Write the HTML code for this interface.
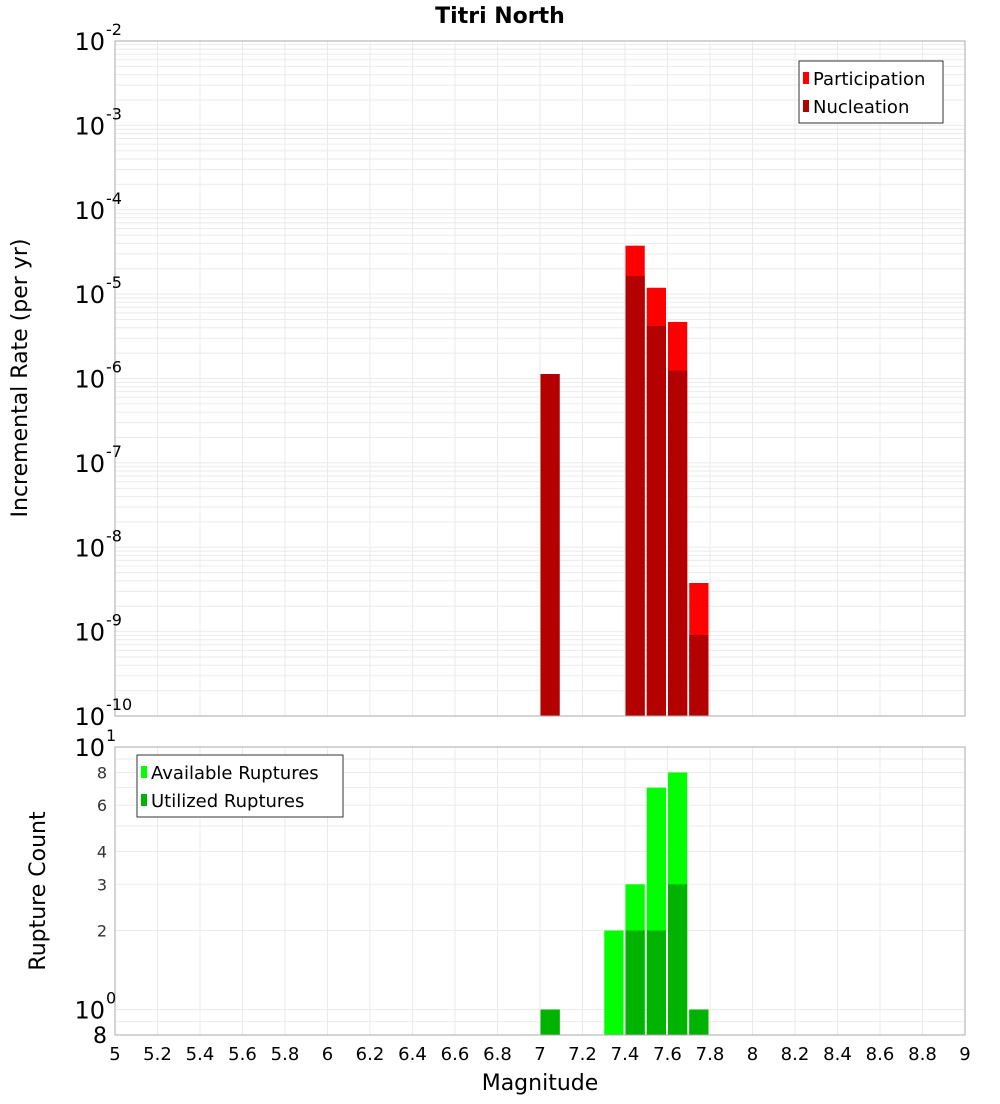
<!DOCTYPE html>
<html><head><meta charset="utf-8"><style>
body{margin:0;background:#fff;font-family:"DejaVu Sans","Liberation Sans",sans-serif;}
</style></head><body>
<svg id="chart" width="1000" height="1100" xmlns="http://www.w3.org/2000/svg">
<text x="500" y="23" text-anchor="middle" font-size="22" font-weight="bold">Titri North</text>
<g id="topPlot"></g>
<g id="botPlot"></g>
<text transform="translate(27,378) rotate(-90)" text-anchor="middle" font-size="22">Incremental Rate (per yr)</text>
<text transform="translate(45,891) rotate(-90)" text-anchor="middle" font-size="22">Rupture Count</text>
<text x="540" y="1090" text-anchor="middle" font-size="22">Magnitude</text>
</svg>
<script>
const magBins=[7.05,7.45,7.55,7.65,7.75];
const participation=[null,3.75e-5,1.19e-5,4.68e-6,3.77e-9];
const nucleation=[1.13e-6,1.64e-5,4.19e-6,1.24e-6,9.1e-10];
const countBins=[7.05,7.35,7.45,7.55,7.65,7.75];
const available=[1,2,3,7,8,1];
const utilized=[1,0,2,2,3,1];
const xTicks=[5,5.2,5.4,5.6,5.8,6,6.2,6.4,6.6,6.8,7,7.2,7.4,7.6,7.8,8,8.2,8.4,8.6,8.8,9];
const rateExps=[-2,-3,-4,-5,-6,-7,-8,-9,-10];
const countTicks=[8,6,4,3,2];

const NS="http://www.w3.org/2000/svg";
const X0=115,X1=965;
const xs=m=>X0+(m-5)/4*(X1-X0);
const T0=41,T1=716;
const yTop=v=>T0+(-2-Math.log10(v))*(T1-T0)/8;
const B0=747,B1=1035;
const bs=(B1-B0)/(1-Math.log10(0.8));
const yBot=v=>B0+(1-Math.log10(v))*bs;
function mk(p,tag,a){const e=document.createElementNS(NS,tag);for(const k in a)e.setAttribute(k,a[k]);p.appendChild(e);return e;}
const topG=document.getElementById('topPlot'),botG=document.getElementById('botPlot');

for(const g of [[topG,T0,T1],[botG,B0,B1]]){
  for(let m=5;m<=9.001;m+=0.2){const l=mk(g[0],'line',{x1:xs(m),x2:xs(m),y1:g[1],y2:g[2],stroke:'#ebebeb'});
  
  }
}
for(let d=-10;d<-2;d++)for(let k=1;k<10;k++){const y=yTop(k*Math.pow(10,d));
  const l=mk(topG,'line',{x1:X0,x2:X1,y1:y,y2:y,stroke:'#ebebeb'});
  
  }
for(const v of [0.8,0.9,1,2,3,4,5,6,7,8,9]){const y=yBot(v);
  const l=mk(botG,'line',{x1:X0,x2:X1,y1:y,y2:y,stroke:'#ebebeb'});
  
  }

const bw=(X1-X0)/40;
function bar(p,c,v,yf,base,col,name){
  const x=xs(c)-bw/2+0.5,y=yf(v);
  const r=mk(p,'rect',{x:x,y:y,width:bw-2,height:base-y,fill:col});
  
  
}
magBins.forEach((c,i)=>{if(participation[i])bar(topG,c,participation[i],yTop,T1,'#ff0000','participation-bar');});
magBins.forEach((c,i)=>{if(nucleation[i])bar(topG,c,nucleation[i],yTop,T1,'#b30000','nucleation-bar');});
countBins.forEach((c,i)=>{if(available[i])bar(botG,c,available[i],yBot,B1,'#00ff00','available-bar');});
countBins.forEach((c,i)=>{if(utilized[i])bar(botG,c,utilized[i],yBot,B1,'#00b300','utilized-bar');});

for(const g of [[topG,T0,T1],[botG,B0,B1]]){const f=mk(g[0],'rect',{x:X0,y:g[1],width:X1-X0,height:g[2]-g[1],fill:'none',stroke:'#aaa'});

}

rateExps.forEach(e=>{const y=yTop(Math.pow(10,e));
  const t=mk(topG,'text',{x:105,y:y+9,'text-anchor':'end','font-size':24});
  
  
  t.textContent='10';
  const s=mk(topG,'text',{x:106,y:y-6,'font-size':16});
  
  
  s.textContent=String(e);});
for(const [v,ex] of [[10,'1'],[1,'0']]){const y=yBot(v);
  const t=mk(botG,'text',{x:105,y:y+9,'text-anchor':'end','font-size':24});
  
  
  t.textContent='10';
  const s=mk(botG,'text',{x:106,y:y-6,'font-size':16});
  
  
  s.textContent=ex;}
countTicks.forEach(v=>{const t=mk(botG,'text',{x:107,y:yBot(v)+6,'text-anchor':'end','font-size':16,fill:'#333'});
  
  
  t.textContent=v;});
{const t=mk(botG,'text',{x:107,y:B1+8,'text-anchor':'end','font-size':22});


t.textContent='8';}
xTicks.forEach(m=>{const t=mk(botG,'text',{x:xs(m),y:1060,'text-anchor':'middle','font-size':18});
  
  
  t.textContent=String(Math.round(m*10)/10);});

function legend(p,x,y,w,items,name){
  const g=mk(p,'g',{});
  
  
  mk(g,'rect',{x:x,y:y,width:w,height:items.length*28+6,fill:'#fff',stroke:'#333'});
  items.forEach((it,i)=>{
    const sw=mk(g,'rect',{x:x+4,y:y+11+i*28,width:6,height:12,fill:it[1]});
    
    
    const t=mk(g,'text',{x:x+14,y:y+24+i*28,'font-size':18});
    
    
    t.textContent=it[0];});
}
legend(topG,799,61,144,[['Participation','#ff0000'],['Nucleation','#b30000']],'rate-legend');
legend(botG,137,755,206,[['Available Ruptures','#00ff00'],['Utilized Ruptures','#00b300']],'count-legend');
</script>
</body></html>
